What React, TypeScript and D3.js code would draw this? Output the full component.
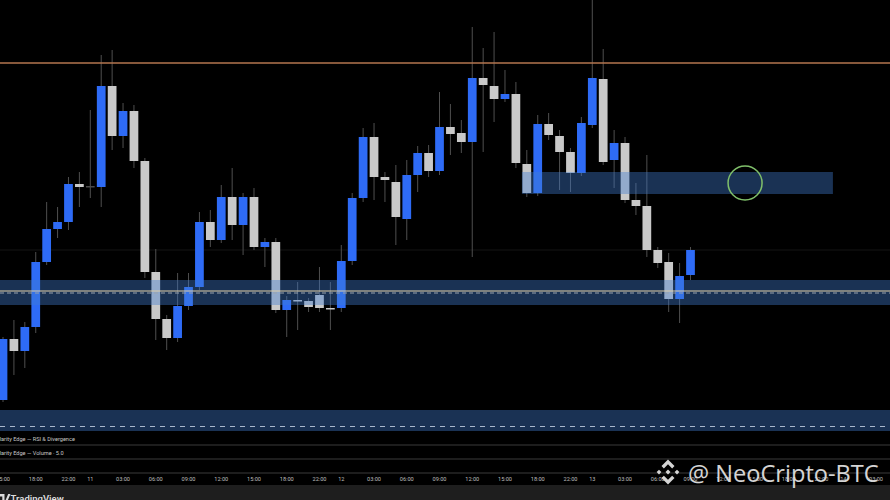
import * as d3 from 'd3';

// hourly candles, prices (no price axis is shown)
const opens = [
  100300, 100910, 100790, 101030, 101680, 102010, 102080, 102460, 102440, 102430,
  103440, 102940, 103190, 102690, 101580, 101110, 100920, 101240, 101430, 102080,
  101900, 102330, 102050, 102330, 101830, 101880, 101200, 101300, 101290, 101350,
  101220, 101220, 101690, 102320, 102930, 102530, 102480, 102110, 102550, 102770,
  102590, 103030, 102970, 102880, 103520, 103440, 103310, 103360, 102660, 102370,
  103060, 102940, 102780, 102570, 103050, 103510, 102700, 102870, 102300, 102240,
  101800, 101680, 101310, 101550,
];
const highs = [
  100930, 101100, 101080, 101780, 102280, 102230, 102530, 102580, 103200, 103750,
  103800, 103270, 103250, 102720, 101810, 101150, 101570, 101570, 102180, 102200,
  102450, 102620, 102370, 102420, 101920, 101920, 101340, 101480, 101320, 101630,
  101480, 101850, 102370, 103020, 103070, 102580, 102650, 102700, 102840, 102850,
  103380, 103260, 103100, 104030, 103820, 103980, 103600, 103480, 102800, 103150,
  103170, 103000, 102820, 103130, 104350, 103810, 103000, 102930, 102470, 102750,
  101830, 101770, 101670, 101830,
];
const lows = [
  100280, 100550, 100620, 100970, 101650, 101920, 102000, 102230, 102320, 102230,
  102800, 102820, 102620, 101520, 100900, 100800, 100880, 101200, 101400, 101830,
  101870, 101900, 101750, 101800, 101630, 101170, 100930, 101000, 101180, 101180,
  101000, 101180, 101650, 102280, 102300, 102280, 101850, 101900, 102380, 102530,
  102550, 102750, 102770, 101730, 102780, 103080, 103280, 102620, 102330, 102340,
  102900, 102400, 102380, 102540, 103020, 102650, 102420, 102270, 102150, 101730,
  101620, 101180, 101070, 101500,
];
const closes = [
  100910, 100790, 101030, 101680, 102010, 102080, 102460, 102430, 102440, 103440,
  102940, 103190, 102690, 101580, 101110, 100920, 101240, 101430, 102080, 101900,
  102330, 102050, 102330, 101830, 101880, 101200, 101300, 101290, 101230, 101220,
  101210, 101690, 102320, 102930, 102530, 102500, 102130, 102550, 102770, 102590,
  103030, 102960, 102880, 103520, 103450, 103310, 103360, 102670, 102370, 103060,
  102950, 102780, 102570, 103070, 103520, 102680, 102870, 102300, 102240, 101800,
  101670, 101310, 101540, 101800,
];

// time axis: candle index of each label and its text
const tickIdx = [0, 3, 6, 8, 11, 14, 17, 20, 23, 26, 29, 31, 34, 37, 40, 43, 46, 49, 52, 54, 57, 60, 63, 66, 69, 72, 75, 77, 80];
const tickText = [
  '15:00', '18:00', '22:00', '11', '03:00', '06:00', '09:00', '12:00', '15:00', '18:00', '22:00', '12',
  '03:00', '06:00', '09:00', '12:00', '15:00', '18:00', '22:00', '13', '03:00', '06:00', '09:00',
  '12:00', '15:00', '18:00', '22:00', '14', '03:00',
];

// drawn levels and zones
const resistance = 103670;
const supportZone = [101250, 101500];
const supportLine = 101390;
const supplyZone = [102360, 102580];
const supplyRange = [47.55, 76.05];
const lowerZone = [99990, 100200];
const lowerLine = 100035;
const faintLevel = 101800;
const markIdx = 68;
const markPrice = 102470;
const paneTitles = ['Clarity Edge — RSI & Divergence', 'Clarity Edge — Volume · 5.0'];

const W = 890;
const H = 500;
const BLUE = '#2e6bf6';
const GRAY = '#c9c9c9';
const ZONE = 'rgba(66,125,210,0.4)';

export default function App() {
  const x = d3.scaleLinear().domain([0, opens.length - 1]).range([3, 690.5]);
  const y = d3.scaleLinear().domain([100000, 104300]).range([430, 0]);
  const step = x(1) - x(0);
  const bodyW = step * 0.8;

  const candles = d3.range(opens.length).map((i) => ({
    i,
    o: opens[i],
    h: highs[i],
    l: lows[i],
    c: closes[i],
  }));

  const bodyFill = (d: { o: number; c: number }) => {
    if (d.o === d.c) return '#4a4a4a';
    return d.c > d.o ? BLUE : GRAY;
  };

  // binance-like mark for the watermark, unit coords
  const logo = [
    [[0, -0.2], [0.2, 0], [0, 0.2], [-0.2, 0]],
    [[-0.72, -0.19], [-0.53, 0], [-0.72, 0.19], [-0.91, 0]],
    [[0.72, -0.19], [0.91, 0], [0.72, 0.19], [0.53, 0]],
    [[0, -1], [0.52, -0.48], [0.33, -0.29], [0, -0.62], [-0.33, -0.29], [-0.52, -0.48]],
    [[0, 1], [0.52, 0.48], [0.33, 0.29], [0, 0.62], [-0.33, 0.29], [-0.52, 0.48]],
  ];
  const lg = d3.line();

  return (
    <div style={{ width: W, height: H }}>
      <style>{'body{margin:0;background:#000}'}</style>
      <svg width={W} height={H} style={{ display: 'block', fontFamily: 'Roboto, "Noto Sans", sans-serif' }}>
        <defs>
          <clipPath id='main'>
            <rect x={0} y={0} width={W} height={431} />
          </clipPath>
        </defs>
        <rect width={W} height={H} fill='#000' />

        <g clipPath='url(#main)'>
          <line x1={0} x2={W} y1={y(faintLevel)} y2={y(faintLevel)} stroke='#141414' strokeWidth={1} />

          {candles.map((d) => (
            <line
              key={'w' + d.i}
              x1={x(d.i)}
              x2={x(d.i)}
              y1={y(d.h)}
              y2={y(d.l)}
              stroke='#4f4f4f'
              strokeWidth={1}
            />
          ))}
          {candles.map((d) => (
            <rect
              key={'b' + d.i}
              x={x(d.i) - bodyW / 2}
              y={y(Math.max(d.o, d.c))}
              width={bodyW}
              height={Math.max(1.5, Math.abs(y(d.o) - y(d.c)))}
              fill={bodyFill(d)}
            />
          ))}

          {/* zones drawn over the candles */}
          <rect x={0} y={y(supportZone[1])} width={W} height={y(supportZone[0]) - y(supportZone[1])} fill={ZONE} />
          <rect
            x={x(supplyRange[0])}
            y={y(supplyZone[1])}
            width={x(supplyRange[1]) - x(supplyRange[0])}
            height={y(supplyZone[0]) - y(supplyZone[1])}
            fill={ZONE}
          />
          <rect x={0} y={y(lowerZone[1])} width={W} height={y(lowerZone[0]) - y(lowerZone[1])} fill={ZONE} />

          <line x1={0} x2={W} y1={y(resistance)} y2={y(resistance)} stroke='#b5764f' strokeWidth={1.3} />
          <line x1={0} x2={W} y1={y(supportLine)} y2={y(supportLine)} stroke='#e2cfa8' strokeWidth={1.2} />
          <line
            x1={0}
            x2={W}
            y1={y(supportLine) + 2}
            y2={y(supportLine) + 2}
            stroke='#9aa3ad'
            strokeWidth={1}
            strokeDasharray='4 3'
          />
          <line
            x1={0}
            x2={W}
            y1={y(lowerLine)}
            y2={y(lowerLine)}
            stroke='#a9b8cc'
            strokeWidth={1.2}
            strokeDasharray='5 5'
          />
          <circle cx={x(markIdx)} cy={y(markPrice)} r={17} fill='none' stroke='#7fbf6a' strokeWidth={1.5} />
        </g>

        {/* indicator panes */}
        {paneTitles.map((t, k) => (
          <text key={t} x={-4} y={440.5 + k * 14} fontSize={5.6} fill='#c8c8c8'>
            {t}
          </text>
        ))}
        {[445, 459, 473].map((v) => (
          <line key={v} x1={0} x2={W} y1={v} y2={v} stroke='#3a3a3a' strokeWidth={1} />
        ))}

        {/* time axis */}
        {tickIdx.map((t, k) => (
          <text key={k} x={x(t)} y={481} fontSize={5.6} fill='#bdbdbd' textAnchor='middle'>
            {tickText[k]}
          </text>
        ))}

        <rect x={0} y={485} width={W} height={15} fill='#1e1e1e' />
        <path d='M0,494 h4.5 v7 h-2.2 v-4.5 h-2.3 z M5.2,501 l3,-7 h2.3 l-3,7 z' fill='#dcdcdc' />
        <text x={10.5} y={502} fontSize={9.5} fontWeight={600} fill='#dcdcdc'>
          TradingView
        </text>

        {/* watermark */}
        <g transform='translate(668,472) scale(12.5)' fill='#e6e6e6' opacity={0.92}>
          {logo.map((p, k) => (
            <path key={k} d={lg(p as [number, number][]) + 'Z'} />
          ))}
        </g>
        <text x={688} y={482} fontSize={23.6} fill='#e6e6e6' opacity={0.92} fontFamily='"Open Sans", sans-serif'>
          @ NeoCripto-BTC
        </text>
      </svg>
    </div>
  );
}
